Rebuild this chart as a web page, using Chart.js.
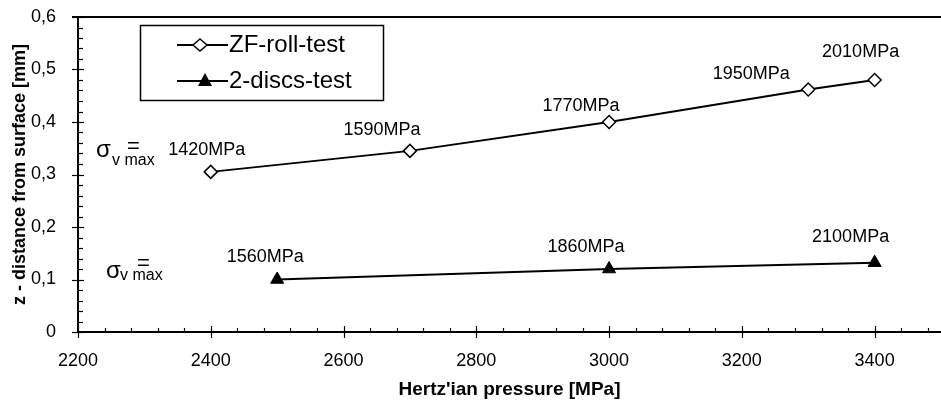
<!DOCTYPE html>
<html>
<head>
<meta charset="utf-8">
<script src="https://cdn.jsdelivr.net/npm/chart.js@4/dist/chart.umd.min.js"></script>
<style>
  html, body { margin: 0; padding: 0; background: #fff; overflow: hidden; }
  #wrap { width: 941px; height: 403px; position: relative; }
  canvas { display: block; }
</style>
</head>
<body>
<div id="wrap"><canvas id="chart"></canvas></div>
<script>
// Hertzian pressure vs. depth of max. equivalent stress
var pressureZF = [2400, 2700, 3000, 3300, 3400];
var depthZF = [0.305, 0.345, 0.40, 0.462, 0.48];
var stressZF = ['1420MPa', '1590MPa', '1770MPa', '1950MPa', '2010MPa'];

var pressureDiscs = [2500, 3000, 3400];
var depthDiscs = [0.10, 0.12, 0.132];
var stressDiscs = ['1560MPa', '1860MPa', '2100MPa'];

var seriesNames = ['ZF-roll-test', '2-discs-test'];

// label offsets from the point (px)
var offsetsZF = [[-4, -22], [-28, -21], [-28, -16], [-57, -15], [-14, -28]];
var offsetsDiscs = [[-12, -22], [-23, -22], [-24, -26]];

var FONT = 'Liberation Sans, Arial, sans-serif';

function toPoints(xs, ys) {
    return xs.map(function (x, i) { return { x: x, y: ys[i] }; });
}

function drawMarker(ctx, style, x, y) {
    ctx.save();
    ctx.lineWidth = 1.5;
    ctx.strokeStyle = '#000';
    if (style === 'diamond') {
        ctx.fillStyle = '#fff';
        ctx.beginPath();
        ctx.moveTo(x, y - 6); ctx.lineTo(x + 7, y); ctx.lineTo(x, y + 6); ctx.lineTo(x - 7, y);
        ctx.closePath(); ctx.fill(); ctx.stroke();
    } else {
        ctx.fillStyle = '#000';
        ctx.beginPath();
        ctx.moveTo(x, y - 7); ctx.lineTo(x + 7, y + 6); ctx.lineTo(x - 7, y + 6);
        ctx.closePath(); ctx.fill();
    }
    ctx.restore();
}

var decorations = {
    id: 'decorations',
    afterDraw: function (chart) {
        var ctx = chart.ctx;
        var xs = chart.scales.x, ys = chart.scales.y;
        var left = xs.left, right = xs.right, top = ys.top, bottom = ys.bottom;
        ctx.save();
        ctx.strokeStyle = '#000';
        ctx.lineWidth = 2;
        // axes and top frame line
        ctx.beginPath();
        ctx.moveTo(left, top - 1); ctx.lineTo(left, bottom);
        ctx.lineTo(right, bottom);
        ctx.moveTo(left - 6, top); ctx.lineTo(right, top);
        ctx.stroke();

        // tick marks on x axis
        ctx.lineWidth = 1.2;
        for (var v = 2200; v <= 3500; v += 40) {
            var px = Math.round(xs.getPixelForValue(v)) + 0.5;
            if (px > right) break;
            ctx.beginPath();
            if ((v - 2200) % 200 === 0) { ctx.moveTo(px, bottom - 6); ctx.lineTo(px, bottom + 6); }
            else { ctx.moveTo(px, bottom - 4); ctx.lineTo(px, bottom); }
            ctx.stroke();
        }
        // tick marks on y axis
        for (var k = 0; k <= 30; k++) {
            var py = Math.round(ys.getPixelForValue(k * 0.02)) + 0.5;
            ctx.beginPath();
            if (k % 5 === 0) { ctx.moveTo(left - 6, py); ctx.lineTo(left + 6, py); }
            else { ctx.moveTo(left, py); ctx.lineTo(left + 5, py); }
            ctx.stroke();
        }

        // stress labels
        ctx.fillStyle = '#000';
        ctx.font = '18px ' + FONT;
        ctx.textAlign = 'center';
        ctx.textBaseline = 'middle';
        [[pressureZF, depthZF, stressZF, offsetsZF], [pressureDiscs, depthDiscs, stressDiscs, offsetsDiscs]].forEach(function (s) {
            s[0].forEach(function (p, i) {
                var x = xs.getPixelForValue(p) + s[3][i][0];
                var y = ys.getPixelForValue(s[1][i]) + s[3][i][1];
                ctx.fillText(s[2][i], x, y);
            });
        });

        // sigma v max symbols
        ctx.textAlign = 'left';
        ctx.textBaseline = 'alphabetic';
        ctx.font = '24px ' + FONT;
        ctx.fillText('σ', 96, 157);
        ctx.font = '16px ' + FONT;
        ctx.fillText('v max', 112, 165);
        ctx.font = '22px ' + FONT;
        ctx.fillText('=', 127, 153);

        ctx.font = '24px ' + FONT;
        ctx.fillText('σ', 106, 278);
        ctx.font = '16px ' + FONT;
        ctx.fillText('v max', 120, 280);
        ctx.font = '22px ' + FONT;
        ctx.fillText('=', 137, 270);

        // legend box
        ctx.lineWidth = 1.5;
        ctx.strokeRect(140.5, 25.5, 243, 75);
        ctx.lineWidth = 2;
        ctx.beginPath();
        ctx.moveTo(177, 45); ctx.lineTo(228, 45);
        ctx.moveTo(177, 81); ctx.lineTo(228, 81);
        ctx.stroke();
        drawMarker(ctx, 'diamond', 200, 45);
        drawMarker(ctx, 'triangle', 205, 80);
        ctx.font = '24px ' + FONT;
        ctx.textBaseline = 'middle';
        ctx.fillText(seriesNames[0], 229, 45);
        ctx.fillText(seriesNames[1], 229, 81);
        ctx.restore();
    }
};

new Chart(document.getElementById('chart'), {
    type: 'scatter',
    data: {
        datasets: [{
            label: seriesNames[0],
            data: toPoints(pressureZF, depthZF),
            showLine: true,
            borderColor: '#000',
            borderWidth: 2,
            pointStyle: 'rectRot',
            pointRadius: 6.5,
            pointBackgroundColor: '#fff',
            pointBorderColor: '#000',
            pointBorderWidth: 1.5
        }, {
            label: seriesNames[1],
            data: toPoints(pressureDiscs, depthDiscs),
            showLine: true,
            borderColor: '#000',
            borderWidth: 2,
            pointStyle: 'triangle',
            pointRadius: 7.5,
            pointBackgroundColor: '#000',
            pointBorderColor: '#000',
            pointBorderWidth: 1
        }]
    },
    options: {
        responsive: true,
        maintainAspectRatio: false,
        animation: false,
        layout: { autoPadding: false, padding: { top: 17, right: 0, left: 0, bottom: 0 } },
        plugins: { legend: { display: false }, tooltip: { enabled: false } },
        scales: {
            x: {
                type: 'linear',
                min: 2200,
                max: 3500,
                border: { display: false },
                grid: { display: false },
                afterFit: function (s) {
                    s.height = 71;
                    s.paddingLeft = 0;
                    s.paddingRight = 0;
                },
                afterBuildTicks: function (s) {
                    s.ticks = s.ticks.filter(function (t) { return t.value <= 3400; });
                },
                ticks: {
                    stepSize: 200,
                    padding: 10,
                    color: '#000',
                    font: { family: FONT, size: 18 },
                    maxRotation: 0,
                    callback: function (v) { return String(v); }
                },
                title: {
                    display: true,
                    text: "Hertz'ian pressure [MPa]",
                    color: '#000',
                    font: { family: FONT, size: 19, weight: 'bold' },
                    padding: { top: 0, bottom: 2 }
                }
            },
            y: {
                min: 0,
                max: 0.6,
                border: { display: false },
                grid: { display: false },
                afterFit: function (s) {
                    s.width = 78;
                    s.paddingTop = 0;
                    s.paddingBottom = 0;
                },
                ticks: {
                    stepSize: 0.1,
                    padding: 14,
                    color: '#000',
                    font: { family: FONT, size: 18 },
                    callback: function (v) { return v === 0 ? '0' : v.toFixed(1).replace('.', ','); }
                },
                title: {
                    display: true,
                    text: 'z - distance from surface [mm]',
                    color: '#000',
                    font: { family: FONT, size: 18, weight: 'bold' },
                    padding: { top: 9, bottom: 0 }
                }
            }
        }
    },
    plugins: [decorations]
});
</script>
</body>
</html>
